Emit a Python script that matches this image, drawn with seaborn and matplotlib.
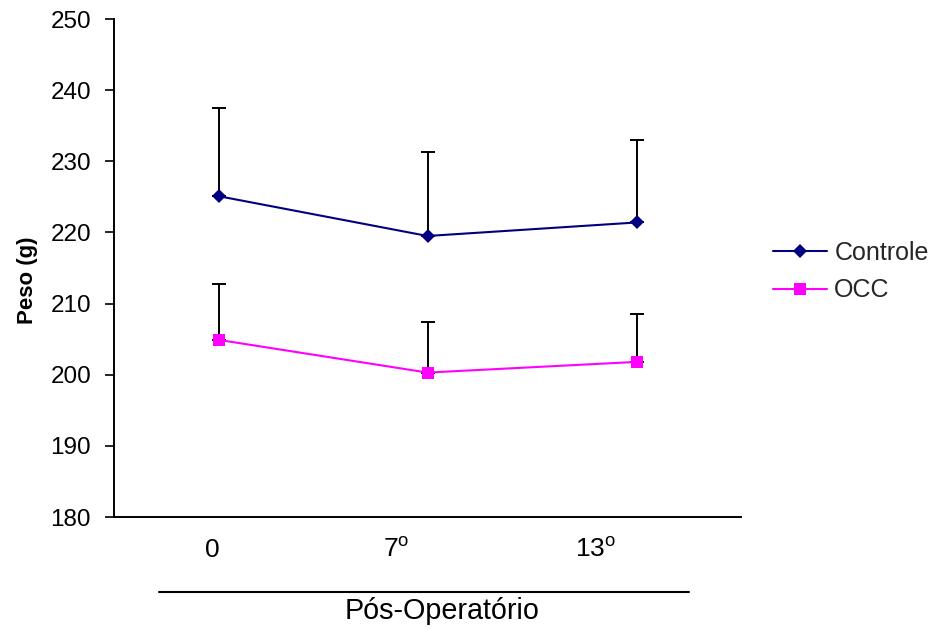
import numpy as np
import pandas as pd
import matplotlib
matplotlib.use("Agg")
import matplotlib.pyplot as plt
from matplotlib.lines import Line2D
import seaborn as sns

# ---------------- data ----------------
categories = ["0", "7", "13"]
tick_labels = ["0", "7$^{\\mathregular{o}}$", "13$^{\\mathregular{o}}$"]
controle_mean = [225.1, 219.5, 221.4]
controle_sd = [12.35, 11.75, 11.55]
occ_mean = [204.9, 200.3, 201.8]
occ_sd = [7.8, 7.1, 6.7]
series_names = ["Controle", "OCC"]
y_ticks = [180, 190, 200, 210, 220, 230, 240, 250]
ylabel = "Peso (g)"
group_label = "Pós-Operatório"

# ---------------- layout / style ----------------
W, H = 933, 630
label_x = [-0.031, 0.852, 1.806]   # tick label positions (data coords, as in reference)
col_ctrl = "#000080"
col_occ = "#FF00FF"

sns.set_theme(style="white")
plt.rcParams["font.family"] = ["Liberation Sans", "DejaVu Sans"]
plt.rcParams["mathtext.fontset"] = "custom"
plt.rcParams["mathtext.rm"] = "Liberation Sans"

fig = plt.figure(figsize=(W / 100, H / 100), dpi=100)
ax = fig.add_axes([114 / W, 1 - 517 / H, (741 - 114) / W, (517 - 19) / H])

x = np.arange(len(categories))
df = pd.DataFrame({
    "x": np.concatenate([x, x]),
    "peso": controle_mean + occ_mean,
    "grupo": [series_names[0]] * len(x) + [series_names[1]] * len(x),
})

# error bars (upper only)
ax.errorbar(x, controle_mean, yerr=[np.zeros(len(x)), controle_sd], fmt="none",
            ecolor="black", elinewidth=1.4, capsize=5, capthick=1.4, zorder=1)
ax.errorbar(x, occ_mean, yerr=[np.zeros(len(x)), occ_sd], fmt="none",
            ecolor="black", elinewidth=1.4, capsize=5, capthick=1.4, zorder=1)

sns.lineplot(data=df[df.grupo == series_names[0]], x="x", y="peso", ax=ax,
             color=col_ctrl, marker="D", markersize=7.2, markeredgewidth=0,
             linewidth=1.5, label=series_names[0], zorder=3, legend=False)
sns.lineplot(data=df[df.grupo == series_names[1]], x="x", y="peso", ax=ax,
             color=col_occ, marker="s", markersize=8.3, markeredgewidth=0,
             linewidth=1.5, label=series_names[1], zorder=3, legend=False)

ax.set_xlim(-0.5, len(categories) - 0.5)
ax.set_ylim(y_ticks[0], y_ticks[-1])
ax.set_yticks(y_ticks)
ax.set_yticklabels([str(v) for v in y_ticks], fontsize=17.5)
ax.set_xticks(label_x)
ax.set_xticklabels(tick_labels, fontsize=19)
for lab in ax.get_xticklabels():
    lab.set_va("baseline")
ax.tick_params(axis="x", length=0, pad=28.8, colors="black")
ax.tick_params(axis="y", direction="out", length=6.5, width=1.2, pad=10,
               colors="black", left=True)

ax.set_xlabel("")
ax.set_ylabel(ylabel, fontsize=16, fontweight="bold", color="black")
ax.yaxis.set_label_coords(-0.122, 0.476)

for side in ["top", "right"]:
    ax.spines[side].set_visible(False)
for side in ["left", "bottom"]:
    ax.spines[side].set_color("black")
    ax.spines[side].set_linewidth(1.4)
ax.grid(False)

# legend
handles = [
    Line2D([], [], color=col_ctrl, marker="D", markersize=7.2, markeredgewidth=0, linewidth=1.5),
    Line2D([], [], color=col_occ, marker="s", markersize=8.3, markeredgewidth=0, linewidth=1.5),
]
fig.legend(handles, series_names, loc="center left",
           bbox_to_anchor=(773 / W, 1 - 271.5 / H), frameon=False,
           fontsize=18, handlelength=2.15, handletextpad=0.3,
           labelspacing=0.55, borderpad=0, borderaxespad=0)

# group line and label below the axis
fig.add_artist(Line2D([159 / W, 689 / W], [1 - 591.5 / H, 1 - 591.5 / H],
                      color="black", linewidth=1.5))
fig.text(442 / W, 1 - 619 / H, group_label, ha="center", va="baseline",
         fontsize=20.7, color="black")

fig.savefig("out.png", dpi=100)
